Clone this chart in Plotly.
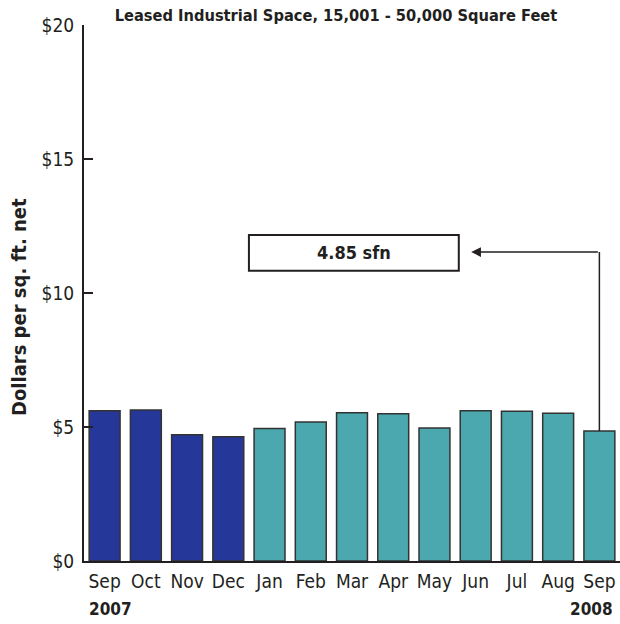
import plotly.graph_objects as go

months = ["Sep", "Oct", "Nov", "Dec", "Jan", "Feb", "Mar", "Apr", "May", "Jun", "Jul", "Aug", "Sep"]
values = [5.61, 5.63, 4.71, 4.64, 4.94, 5.19, 5.53, 5.49, 4.96, 5.61, 5.59, 5.51, 4.85]
year_flags = [2007, 2007, 2007, 2007, 2008, 2008, 2008, 2008, 2008, 2008, 2008, 2008, 2008]
ytick_vals = [0, 5, 10, 15, 20]
ytick_text = ["$0", "$5", "$10", "$15", "$20"]
callout_text = "4.85 sfn"

FONT = "DejaVu Sans Condensed, Liberation Sans Narrow, sans-serif"
DARK = "#231F20"
BLUE = "#26379A"
TEAL = "#4AA8AE"

xs = list(range(len(months)))
colors = [BLUE if y == 2007 else TEAL for y in year_flags]

fig = go.Figure()
fig.add_trace(go.Bar(
    x=xs, y=values,
    marker=dict(color=colors, line=dict(color="#333333", width=1.5)),
    width=0.75, hoverinfo="skip",
))

last_x = xs[-1]
last_v = values[-1]
arrow_y = 11.53
box_x0, box_x1 = 3.5, 8.59
box_y0, box_y1 = 10.83, 12.16

fig.add_shape(type="line", x0=last_x, x1=last_x, y0=last_v, y1=arrow_y,
              line=dict(color=DARK, width=1.5), xref="x", yref="y")
fig.add_shape(type="rect", x0=box_x0, x1=box_x1, y0=box_y0, y1=box_y1,
              line=dict(color=DARK, width=2), fillcolor="white", xref="x", yref="y")
fig.add_annotation(x=8.89, y=arrow_y, ax=last_x, ay=arrow_y, xref="x", yref="y",
                   axref="x", ayref="y", text="", showarrow=True,
                   arrowhead=2, arrowsize=1.3, arrowwidth=1.5, arrowcolor=DARK)
fig.add_annotation(x=(box_x0 + box_x1) / 2, y=(box_y0 + box_y1) / 2, xref="x", yref="y",
                   text="<b>" + callout_text + "</b>", showarrow=False,
                   font=dict(family=FONT, size=18, color=DARK))

fig.add_annotation(x=-(84 - 19) / 536, y=(561 - 307) / 536, xref="paper", yref="paper",
                   textangle=-90, xanchor="center", yanchor="middle",
                   text="<b>Dollars per sq. ft. net</b>", showarrow=False,
                   font=dict(family=FONT, size=20, color=DARK))
fig.add_annotation(x=(87 - 84) / 536, y=-(608.7 - 561) / 536, xref="paper", yref="paper",
                   xanchor="left", yanchor="middle", text="<b>2007</b>", showarrow=False,
                   font=dict(family=FONT, size=17, color=DARK))
fig.add_annotation(x=(615 - 84) / 536, y=-(608.7 - 561) / 536, xref="paper", yref="paper",
                   xanchor="right", yanchor="middle", text="<b>2008</b>", showarrow=False,
                   font=dict(family=FONT, size=17, color=DARK))

fig.update_layout(
    width=620, height=624,
    margin=dict(l=84, r=0, t=25, b=63),
    plot_bgcolor="white", paper_bgcolor="white",
    showlegend=False,
    title=dict(text="<b>Leased Industrial Space, 15,001 - 50,000 Square Feet</b>",
               x=336 / 620, xref="container", xanchor="center",
               y=1 - 15.5 / 624, yref="container", yanchor="middle",
               font=dict(family=FONT, size=16.3, color=DARK)),
    xaxis=dict(range=[-0.5, len(months) - 0.5], tickvals=xs, ticktext=months,
               showline=True, linecolor=DARK, linewidth=2, ticks="",
               showgrid=False, zeroline=False, ticklabelstandoff=2,
               tickfont=dict(family=FONT, size=19, color=DARK), fixedrange=True),
    yaxis=dict(range=[0, 20], tickvals=ytick_vals, ticktext=ytick_text,
               showline=True, linecolor=DARK, linewidth=2, ticks="inside",
               ticklen=9, tickwidth=2, tickcolor=DARK,
               showgrid=False, zeroline=False, ticklabelstandoff=4,
               tickfont=dict(family=FONT, size=19, color=DARK), fixedrange=True),
)

fig.write_html("out.html", config={"displayModeBar": False, "staticPlot": True},
               post_script="document.body.style.margin='0';")
